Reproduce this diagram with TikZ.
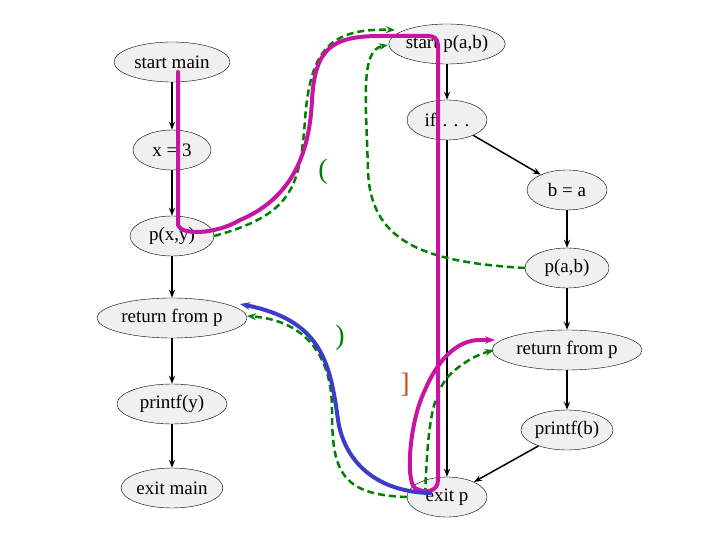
\documentclass[tikz,border=0pt]{standalone}
\usepackage{fontspec}
\setmainfont{Liberation Serif}
\usetikzlibrary{shapes.geometric,arrows.meta}
\begin{document}
\begin{tikzpicture}[x=1pt,y=-1pt,
  ev/.style={ellipse,draw=black,fill=gray!12,font=\fontsize{19}{19}\selectfont,inner sep=0pt,minimum height=40},
  fl/.style={-{Stealth[length=8pt]},line width=1.5pt},
  gd/.style={green!50!black,line width=2.5pt,-{Stealth[length=9pt]},dash pattern=on 7pt off 4pt},
  mg/.style={color={rgb,255:red,200;green,20;blue,160},line width=4pt,line cap=round,line join=round},
  bl/.style={color={rgb,255:red,60;green,60;blue,200},line width=4pt,line cap=round}]
\useasboundingbox (0,0) rectangle (720,540);
\node[ev,minimum width=116] (sm) at (172,62) {start main};
\node[ev,minimum width=78] (x3) at (172,150) {x = 3};
\node[ev,minimum width=84] (pxy) at (172,236) {p(x,y)};
\node[ev,minimum width=150] (rl) at (172,318) {return from p};
\node[ev,minimum width=110] (py) at (172,404) {printf(y)};
\node[ev,minimum width=102] (em) at (172,488) {exit main};
\node[ev,minimum width=116] (sp) at (447,44) {start p(a,b)};
\node[ev,minimum width=80] (if) at (447,120) {if\,\,. . .};
\node[ev,minimum width=80] (ba) at (567,190) {b = a};
\node[ev,minimum width=84] (pab) at (567,268) {p(a,b)};
\node[ev,minimum width=150] (rr) at (567,350) {return from p};
\node[ev,minimum width=92] (pb) at (567,430) {printf(b)};
\node[ev,minimum width=80] (ep) at (447,497) {exit p};
\draw[fl] (sm) -- (x3);
\draw[fl] (x3) -- (pxy);
\draw[fl] (pxy) -- (rl);
\draw[fl] (rl) -- (py);
\draw[fl] (py) -- (em);
\draw[fl] (sp) -- (if);
\draw[fl] (if) -- (ba);
\draw[fl] (if) -- (ep);
\draw[fl] (ba) -- (pab);
\draw[fl] (pab) -- (rr);
\draw[fl] (rr) -- (pb);
\draw[fl] (pb) -- (ep);
% green dashed
\draw[gd] (pxy.east) .. controls (290,215) and (300,190) .. (305,120)
  .. controls (310,50) and (330,28) .. (395,30);
\draw[gd] (pab.west) .. controls (420,262) and (370,240) .. (368,170)
  .. controls (366,100) and (360,50) .. (388,45);
\draw[gd] (ep.west) .. controls (340,495) and (332,470) .. (332,410)
  .. controls (332,350) and (300,320) .. (247,316);
\draw[gd] (425,495) .. controls (428,430) and (430,390) .. (455,370)
  .. controls (470,358) and (480,354) .. (494,350);
% magenta
\draw[mg] (178,72) -- (178,225) .. controls (180,235) and (215,235) .. (240,220)
  .. controls (300,195) and (310,140) .. (312,100)
  .. controls (315,50) and (330,36) .. (380,36) -- (428,36)
  .. controls (440,36) and (438,45) .. (438,60) -- (438,480)
  .. controls (438,492) and (425,494) .. (415,488)
  .. controls (405,480) and (410,420) .. (425,390)
  .. controls (440,355) and (460,340) .. (480,340);
\draw[mg,-{Stealth[length=10pt]}] (478,340) -- (495,340);
% blue
\draw[bl,-{Stealth[length=10pt]}] (430,493) .. controls (380,492) and (345,465) .. (338,420)
  .. controls (330,360) and (320,320) .. (240,304);
% labels
\node[green!50!black,font=\fontsize{28}{28}\selectfont] (lp) at (323,172) {(};
\node[green!50!black,font=\fontsize{28}{28}\selectfont] (rp) at (340,338) {)};
\node[color={rgb,255:red,220;green,70;blue,20},font=\fontsize{28}{28}\selectfont] (rb) at (405,385) {]};
\end{tikzpicture}
\end{document}
